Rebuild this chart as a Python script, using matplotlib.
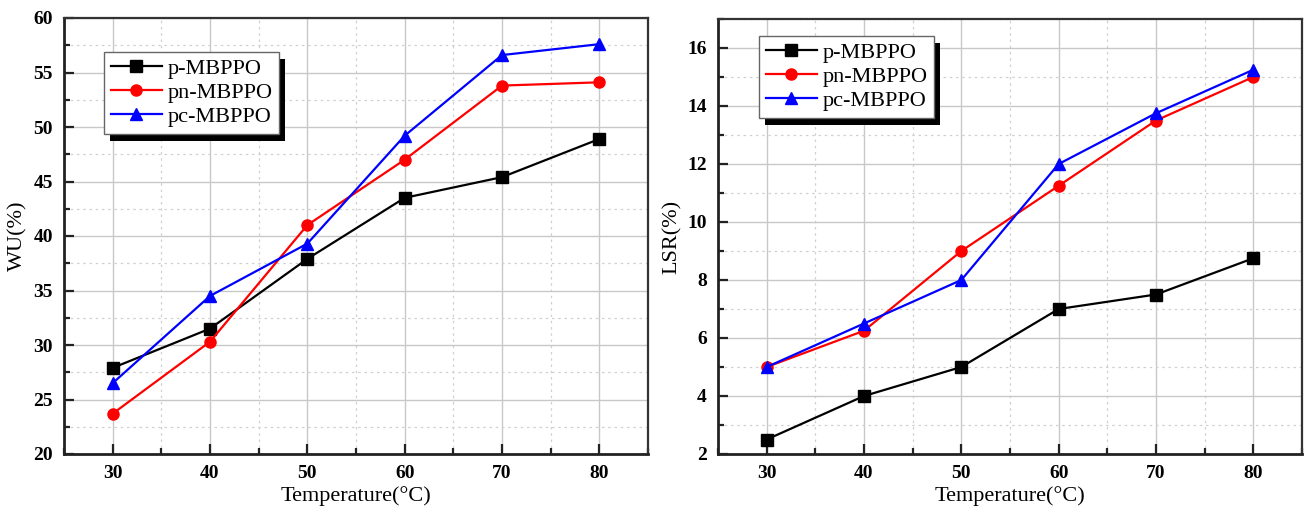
import matplotlib
matplotlib.use("Agg")
import matplotlib.pyplot as plt
from matplotlib.patches import Rectangle
from matplotlib.ticker import MultipleLocator

plt.rcParams['font.family'] = ['Liberation Serif', 'DejaVu Serif']
plt.rcParams['mathtext.fontset'] = 'stix'

temperature = [30, 40, 50, 60, 70, 80]
series_names = ["p-MBPPO", "pn-MBPPO", "pc-MBPPO"]

wu_p = [27.9, 31.5, 37.9, 43.5, 45.4, 48.9]
wu_pn = [23.7, 30.3, 41.0, 47.0, 53.8, 54.1]
wu_pc = [26.5, 34.5, 39.3, 49.2, 56.6, 57.6]

lsr_p = [2.5, 4.0, 5.0, 7.0, 7.5, 8.75]
lsr_pn = [5.0, 6.25, 9.0, 11.25, 13.5, 15.0]
lsr_pc = [5.0, 6.5, 8.0, 12.0, 13.75, 15.25]

colors = ["black", "#ff0000", "#0000ff"]
markers = ["s", "o", "^"]

W, H = 1307, 513
fig = plt.figure(figsize=(W / 100, H / 100), dpi=100)
fig.patch.set_facecolor("white")


def px_axes(x0, y0, x1, y1):
    return fig.add_axes([x0 / W, 1 - y1 / H, (x1 - x0) / W, (y1 - y0) / H])


def style(ax, ylim, ymajor, yminor, ylabel):
    ax.set_xlim(25, 85)
    ax.set_ylim(*ylim)
    ax.xaxis.set_major_locator(MultipleLocator(10))
    ax.xaxis.set_minor_locator(MultipleLocator(5))
    ax.yaxis.set_major_locator(MultipleLocator(ymajor))
    ax.yaxis.set_minor_locator(MultipleLocator(yminor))
    ax.set_xticks([30, 40, 50, 60, 70, 80])
    ax.grid(which="major", color="#c8c8c8", lw=1.0, ls="-")
    ax.grid(which="minor", color="#d0d0d0", lw=0.9, ls=(0, (2, 3)))
    ax.set_axisbelow(True)
    ax.tick_params(which="both", direction="in", top=False, right=False,
                   width=1.6, color="#222222")
    ax.tick_params(which="major", length=7, labelsize=14, pad=8)
    ax.tick_params(which="minor", length=4)
    for lab in ax.get_xticklabels() + ax.get_yticklabels():
        lab.set_fontweight("bold")
    for side in ["left", "bottom"]:
        ax.spines[side].set_linewidth(2.0)
        ax.spines[side].set_color("#222222")
    for side in ["top", "right"]:
        ax.spines[side].set_linewidth(1.6)
        ax.spines[side].set_color("#333333")
    ax.set_xlabel("Temperature(°C)", fontsize=16, labelpad=3)
    ax.set_ylabel(ylabel, fontsize=16, labelpad=4)


def plot_series(ax, ys):
    for y, name, c, m in zip(ys, series_names, colors, markers):
        ax.plot(temperature, y, color=c, marker=m, markersize=8,
                lw=1.6, label=name, clip_on=False, zorder=3)


def add_legend(ax, anchor):
    leg = ax.legend(loc="upper left", bbox_to_anchor=anchor, borderaxespad=0,
                    fontsize=16, frameon=True, fancybox=False, framealpha=1,
                    facecolor="white", edgecolor="#666666",
                    handlelength=2.3, handletextpad=0.25, labelspacing=0.15,
                    borderpad=0.3)
    leg.get_frame().set_linewidth(1.0)
    leg.set_zorder(6)
    return leg


ax1 = px_axes(64, 18, 648, 454)
plot_series(ax1, [wu_p, wu_pn, wu_pc])
style(ax1, (20, 60), 5, 2.5, "WU(%)")
leg1 = add_legend(ax1, (0.0685, 0.922))

ax2 = px_axes(718, 19, 1302, 454)
plot_series(ax2, [lsr_p, lsr_pn, lsr_pc])
style(ax2, (2, 17), 2, 1, "LSR(%)")
leg2 = add_legend(ax2, (0.070, 0.961))

# solid drop shadow behind each legend box
fig.canvas.draw()
for ax, leg in [(ax1, leg1), (ax2, leg2)]:
    bb = leg.get_frame().get_window_extent()
    shadow = Rectangle((bb.x0 + 6, bb.y0 - 7), bb.width, bb.height,
                       transform=None, facecolor="black", edgecolor="none",
                       zorder=5.9, clip_on=False)
    ax.add_artist(shadow)

fig.savefig("out.png", dpi=100, facecolor="white")
